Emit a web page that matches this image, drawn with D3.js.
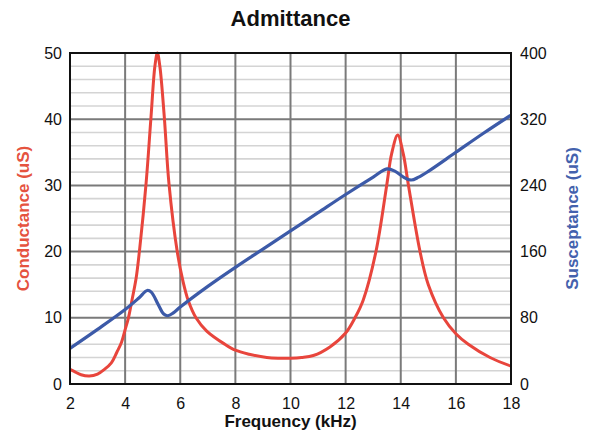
<!DOCTYPE html>
<html>
<head>
<meta charset="utf-8">
<script src="https://cdn.jsdelivr.net/npm/d3@7"></script>
<style>
  body { margin: 0; background: #fff; }
  text { font-family: "Liberation Sans", Arial, sans-serif; }
</style>
</head>
<body>
<div id="chart"></div>
<script>
// conductance curve (kHz, uS)
let gFreq = [2.0, 2.15, 2.4, 2.7, 3.0, 3.25, 3.5, 3.7, 3.87, 4.0, 4.12, 4.25, 4.4, 4.53, 4.76, 4.94, 5.08, 5.17,
  5.26, 5.42, 5.59, 5.89, 6.1, 6.29, 6.57, 6.96, 7.62, 8.0, 8.5, 9.14, 9.62, 10.0, 10.4, 10.83, 11.43, 12.0,
  12.34, 12.64, 13.1, 13.49, 13.67, 13.89, 14.09, 14.28, 14.7, 15.0, 15.55, 16.0, 16.45, 17.24, 18.0]
let conductance = [2.2, 1.9, 1.4, 1.2, 1.5, 2.2, 3.2, 4.8, 6.3, 8.2, 10, 12.7, 16, 20.5, 30.3, 40.4, 48, 50,
  48, 40.4, 30.3, 20, 15.5, 12.6, 10, 8, 6, 5.1, 4.5, 4.0, 3.9, 3.9, 4.0, 4.3, 5.6, 7.7,
  10, 12.7, 20, 30, 34.8, 37.6, 34.8, 30, 20, 15, 10, 7.6, 6, 4, 2.7]

// susceptance curve (kHz, uS)
let bFreq = [2.0, 3.0, 4.0, 4.5, 4.8, 4.95, 5.2, 5.4, 5.55, 5.75, 6.0, 7.0, 8.0, 9.0, 10.0, 11.0, 12.0, 13.0,
  13.5, 13.8, 14.1, 14.38, 14.65, 15.0, 16.0, 17.0, 18.0]
let susceptance = [43, 66, 90, 104, 113, 111, 96, 84.5, 82.5, 86, 93, 118, 141, 163, 185, 207, 229, 250,
  260, 257, 250, 246.5, 250, 257, 280, 303, 325]

let xTicks = [2, 4, 6, 8, 10, 12, 14, 16, 18]
let leftTicks = [0, 10, 20, 30, 40, 50]
let rightTicks = [0, 80, 160, 240, 320, 400]
let minorTicks = [2, 4, 6, 8, 12, 14, 16, 18, 22, 24, 26, 28, 32, 34, 36, 38, 42, 44, 46, 48]

let margin = { top: 53, right: 82, bottom: 50, left: 70 }
let W = 593, H = 434

let svg = d3.select("#chart")
  .append("svg")
  .attr("width", W)
  .attr("height", H)

let x = d3.scaleLinear().domain([2, 18]).range([margin.left, W - margin.right])
let yL = d3.scaleLinear().domain([0, 50]).range([H - margin.bottom, margin.top])
let yR = d3.scaleLinear().domain([0, 400]).range([H - margin.bottom, margin.top])

// grid
let grid = svg.append("g")
grid.selectAll(".minor")
  .data(minorTicks)
  .enter().append("line")
    .attr("x1", x(2)).attr("x2", x(18))
    .attr("y1", d => yL(d)).attr("y2", d => yL(d))
    .attr("stroke", "#d4d4d4")
    .attr("stroke-width", 1.6)
grid.selectAll(".hmajor")
  .data(leftTicks.slice(1, -1))
  .enter().append("line")
    .attr("x1", x(2)).attr("x2", x(18))
    .attr("y1", d => yL(d)).attr("y2", d => yL(d))
    .attr("stroke", "#7a7a7a")
    .attr("stroke-width", 2)
grid.selectAll(".vmajor")
  .data(xTicks.slice(1, -1))
  .enter().append("line")
    .attr("y1", yL(0)).attr("y2", yL(50))
    .attr("x1", d => x(d)).attr("x2", d => x(d))
    .attr("stroke", "#7a7a7a")
    .attr("stroke-width", 2)

// curves
let gLine = d3.line()
  .x((d, i) => x(gFreq[i]))
  .y(d => yL(d))
  .curve(d3.curveCatmullRom.alpha(0.5))

let bLine = d3.line()
  .x((d, i) => x(bFreq[i]))
  .y(d => yR(d))
  .curve(d3.curveCatmullRom.alpha(0.5))

svg.append("path")
  .datum(conductance)
  .attr("d", gLine)
  .attr("fill", "none")
  .attr("stroke", "#e8453c")
  .attr("stroke-width", 3)
  .attr("stroke-linejoin", "round")

svg.append("path")
  .datum(susceptance)
  .attr("d", bLine)
  .attr("fill", "none")
  .attr("stroke", "#3c5aa8")
  .attr("stroke-width", 3.2)
  .attr("stroke-linejoin", "round")

// frame
svg.append("rect")
  .attr("x", x(2)).attr("y", yL(50))
  .attr("width", x(18) - x(2)).attr("height", yL(0) - yL(50))
  .attr("fill", "none")
  .attr("stroke", "#111")
  .attr("stroke-width", 2)

// axes
let xAxis = g => g
  .attr("transform", `translate(0,${yL(0)})`)
  .call(d3.axisBottom(x).tickValues(xTicks).tickSize(0).tickPadding(14))
  .call(g => g.select(".domain").remove())

let leftAxis = g => g
  .attr("transform", `translate(${x(2)},0)`)
  .call(d3.axisLeft(yL).tickValues(leftTicks).tickSize(0).tickPadding(8))
  .call(g => g.select(".domain").remove())

let rightAxis = g => g
  .attr("transform", `translate(${x(18)},0)`)
  .call(d3.axisRight(yR).tickValues(rightTicks).tickSize(0).tickPadding(9))
  .call(g => g.select(".domain").remove())

svg.append("g").call(xAxis)
svg.append("g").call(leftAxis)
svg.append("g").call(rightAxis)

svg.selectAll(".tick text")
  .style("font-size", "16px")
  .style("font-family", "'Liberation Sans', Arial, sans-serif")
  .attr("fill", "#111")

// titles
svg.append("text")
  .attr("x", (x(2) + x(18)) / 2)
  .attr("y", 26)
  .attr("text-anchor", "middle")
  .style("font-size", "22px")
  .style("font-weight", "bold")
  .attr("fill", "#111")
  .text("Admittance")

svg.append("text")
  .attr("x", (x(2) + x(18)) / 2)
  .attr("y", 427)
  .attr("text-anchor", "middle")
  .style("font-size", "17px")
  .style("font-weight", "bold")
  .attr("fill", "#111")
  .text("Frequency (kHz)")

svg.append("text")
  .attr("transform", `translate(29,${(yL(0) + yL(50)) / 2}) rotate(-90)`)
  .attr("text-anchor", "middle")
  .style("font-size", "17px")
  .style("font-weight", "bold")
  .attr("fill", "#e5533f")
  .text("Conductance (uS)")

svg.append("text")
  .attr("transform", `translate(578,${(yL(0) + yL(50)) / 2}) rotate(-90)`)
  .attr("text-anchor", "middle")
  .style("font-size", "17px")
  .style("font-weight", "bold")
  .attr("fill", "#4462ad")
  .text("Susceptance (uS)")
</script>
</body>
</html>
